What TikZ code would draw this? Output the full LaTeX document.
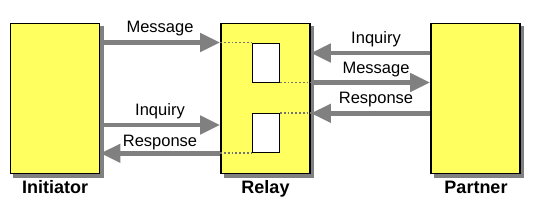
\documentclass[tikz,border=0pt]{standalone}
\usepackage{fontspec}
\setmainfont{Liberation Sans}
\usepackage{tikz}
\usetikzlibrary{arrows.meta,backgrounds}
\definecolor{partyfill}{HTML}{FFFF60}
\definecolor{shadowgray}{HTML}{808080}

\begin{document}
\begin{tikzpicture}[x=1pt, y=-1pt,
    party/.style={rectangle, draw, line width=1.8pt, fill=partyfill, minimum width=89pt, minimum height=150pt},
    boxshadow/.style={fill=shadowgray},
    slot/.style={rectangle, draw, line width=1pt, fill=white, minimum width=27pt, minimum height=39pt},
    flow/.style={draw=black!50, line width=4.5pt, -{Triangle[length=20pt,width=18pt]}},
    link/.style={draw=black!55, line width=1.8pt, dash pattern=on 1.8pt off 2pt},
    msg/.style={anchor=base, font=\fontsize{16.5}{18}\selectfont},
    role/.style={anchor=base, font=\fontsize{18}{20}\selectfont\bfseries}]

    \useasboundingbox (0,0) rectangle (536,209);

    % Parties
    \node[party] (init) at (55,98.5) {};
    \node[party] (relay) at (265.5,98.5) {};
    \node[party] (partner) at (475.5,98.5) {};

    % Shadows behind the parties
    \begin{scope}[on background layer]
        \foreach \p in {init,relay,partner}
            \fill[boxshadow] ([xshift=3.5pt,yshift=-3.5pt]\p.north west) rectangle ([xshift=3.5pt,yshift=-3.5pt]\p.south east);
    \end{scope}

    % Slots inside the relay
    \node[slot] (slotA) at (266,62.5) {};
    \node[slot] (slotB) at (266,133.3) {};

    \coordinate (ask) at (160,125);
    \coordinate (back) at (370,53);

    % Initiator side
    \draw[flow] (init.east |- slotA.north) -- (relay.west |- slotA.north);
    \draw[flow] (init.east |- ask) -- (relay.west |- ask);
    \draw[flow] (relay.west |- slotB.south) -- (init.east |- slotB.south);

    % Partner side
    \draw[flow] (partner.west |- back) -- (relay.east |- back);
    \draw[flow] (relay.east |- slotA.south) -- (partner.west |- slotA.south);
    \draw[flow] (partner.west |- slotB.north) -- (relay.east |- slotB.north);

    % Dotted links to the slots
    \draw[link] (relay.west |- slotA.north) -- (slotA.north west);
    \draw[link] (relay.west |- slotB.south) -- (slotB.south west);
    \draw[link] (slotA.south east) -- (relay.east |- slotA.south);
    \draw[link] (slotB.north east) -- (relay.east |- slotB.north);

    % Labels
    \node[msg] (lMsg) at (160,32) {Message};
    \node[msg] (lAsk) at (160,115) {Inquiry};
    \node[msg] (lResp) at (160,146) {Response};
    \node[msg] (rAsk) at (376,43) {Inquiry};
    \node[msg] (rMsg) at (376,73) {Message};
    \node[msg] (rResp) at (376,103) {Response};

    \node[role] (nInit) at (55,193) {Initiator};
    \node[role] (nRelay) at (265.5,193) {Relay};
    \node[role] (nPartner) at (476,193) {Partner};
\end{tikzpicture}
\end{document}
